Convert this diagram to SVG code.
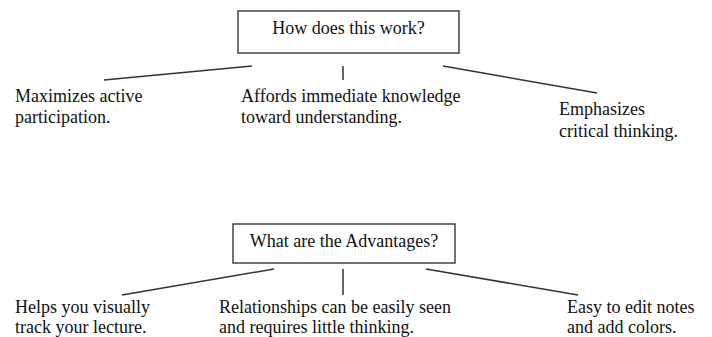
<svg xmlns="http://www.w3.org/2000/svg" width="712" height="337" viewBox="0 0 712 337">
<style>
.t{font-family:'Liberation Serif','Tinos','DejaVu Serif',serif;font-size:18px;fill:#111}
.box{fill:#fff;stroke:#444;stroke-width:1.5}
.c line{stroke:#333;stroke-width:1.5}
</style>
<rect width="712" height="337" fill="#fff"/>
<g id="q1"><rect class="box" x="238" y="11" width="221" height="42"/><text class="t" x="348.5" y="34" text-anchor="middle">How does this work?</text></g>
<g id="a1"><text class="t" x="15" y="102">Maximizes active</text><text class="t" x="15" y="123">participation.</text></g>
<g id="a2"><text class="t" x="241" y="102">Affords immediate knowledge</text><text class="t" x="241" y="123">toward understanding.</text></g>
<g id="a3"><text class="t" x="559" y="115">Emphasizes</text><text class="t" x="559" y="137">critical thinking.</text></g>
<g id="q2"><rect class="box" x="233" y="224" width="222" height="39"/><text class="t" x="344" y="247" text-anchor="middle">What are the Advantages?</text></g>
<g id="b1"><text class="t" x="15" y="313">Helps you visually</text><text class="t" x="15" y="333">track your lecture.</text></g>
<g id="b2"><text class="t" x="219" y="313">Relationships can be easily seen</text><text class="t" x="219" y="333">and requires little thinking.</text></g>
<g id="b3"><text class="t" x="567" y="313">Easy to edit notes</text><text class="t" x="567" y="333">and add colors.</text></g>
<g class="c" id="connectors">
<line x1="252" y1="66" x2="104" y2="80"/>
<line x1="343" y1="66" x2="343" y2="80"/>
<line x1="443" y1="66" x2="597" y2="93"/>
<line x1="274" y1="269" x2="122" y2="295"/>
<line x1="343" y1="269" x2="343" y2="295"/>
<line x1="426" y1="269" x2="578" y2="295"/>
</g>
</svg>
